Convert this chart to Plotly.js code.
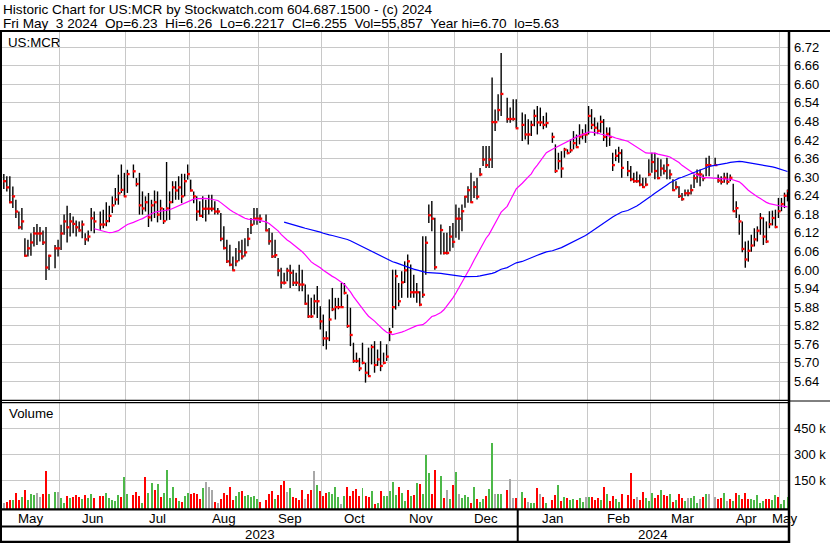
<!DOCTYPE html>
<html><head><meta charset="utf-8">
<script src="https://cdn.plot.ly/plotly-3.0.1.min.js"></script>
<style>html,body{margin:0;padding:0;background:#fff}#chart{width:830px;height:543px}</style>
</head><body><div id="chart"></div>
<script>
// ---- calendar ----
const startDate = '2023-05-05';
const endDate = '2024-05-03';
const holidays = ['2023-05-29','2023-06-19','2023-07-04','2023-09-04','2023-11-23','2023-12-25','2024-01-01','2024-01-15','2024-02-19','2024-03-29'];
const monthLabels = ['May','Jun','Jul','Aug','Sep','Oct','Nov','Dec','Jan','Feb','Mar','Apr','May'];
const yearLabels = ['2023','2024'];
const priceTicks = [5.64,5.70,5.76,5.82,5.88,5.94,6.00,6.06,6.12,6.18,6.24,6.30,6.36,6.42,6.48,6.54,6.60,6.66,6.72];
const volTicks = [150000,300000,450000];
const volTickText = ['150 k','300 k','450 k'];

// ---- daily bars (trading days in order) ----
const highs = [
6.310,6.303,6.303,6.270,6.227,6.189,6.200,6.103,6.098,6.119,
6.139,6.149,6.139,6.128,6.139,6.049,6.081,6.098,6.146,6.179,
6.208,6.184,6.173,6.160,6.157,6.160,6.119,6.128,6.200,6.189,
6.189,6.195,6.219,6.208,6.238,6.265,6.308,6.341,6.314,6.324,
6.341,6.297,6.314,6.254,6.238,6.249,6.227,6.257,6.254,6.227,
6.200,6.349,6.254,6.287,6.287,6.303,6.311,6.311,6.341,6.292,
6.254,6.238,6.222,
6.238,6.227,6.243,6.243,6.222,6.200,6.184,6.141,6.098,6.082,
6.044,6.071,6.093,6.098,6.103,6.136,6.168,6.200,6.200,6.179,
6.179,6.136,6.120,6.098,6.039,6.007,5.991,6.007,6.017,6.001,
5.991,6.017,6.001,5.953,5.921,5.910,5.921,5.948,5.883,5.856,
5.802,5.905,5.942,5.910,5.910,5.958,5.958,5.921,5.878,5.765,
5.733,5.716,5.765,5.700,5.749,5.759,5.770,5.743,5.770,5.733,
5.760,5.813,6.001,
6.001,5.958,5.996,6.028,6.050,6.018,5.985,5.958,5.931,6.109,6.109,6.212,6.223,6.169,
6.147,6.120,6.120,6.142,6.152,6.212,6.201,6.212,6.239,6.271,6.314,6.287,6.298,6.330,6.401,6.401,6.401,6.622,6.519,6.568,6.701,
6.557,6.525,6.552,6.552,
6.509,6.503,6.487,6.482,6.519,6.530,6.525,6.498,6.509,
6.444,6.406,6.379,6.384,6.395,6.390,6.422,6.449,6.438,6.471,6.455,6.471,6.530,
6.520,6.493,6.477,6.499,6.488,6.461,6.461,6.379,6.390,6.398,6.390,
6.352,6.336,6.314,6.318,6.309,6.298,6.298,6.358,6.379,6.379,6.363,6.358,6.341,6.363,6.325,6.293,6.287,6.271,6.249,6.260,6.260,6.276,6.309,6.325,6.325,6.309,6.363,6.369,
6.363,6.309,6.303,6.314,6.314,6.309,6.279,6.222,6.179,6.157,6.092,6.095,6.114,6.135,6.141,6.184,6.170,6.157,6.190,6.192,6.195,6.233,6.233,6.250,6.260
];
const lows = [
6.262,6.254,6.216,6.200,6.168,6.132,6.130,6.044,6.044,6.046,
6.076,6.081,6.092,6.081,5.968,6.000,6.006,6.044,6.065,6.114,
6.089,6.108,6.119,6.108,6.124,6.103,6.081,6.092,6.125,6.119,
6.130,6.135,6.141,6.154,6.184,6.211,6.211,6.249,6.238,6.249,
6.297,6.270,6.179,6.179,6.189,6.139,6.157,6.168,6.154,6.162,
6.149,6.160,6.162,6.216,6.227,6.227,6.216,6.238,6.292,6.254,
6.216,6.159,6.173,
6.168,6.157,6.179,6.189,6.179,6.179,6.093,6.066,6.023,6.012,
5.998,6.012,6.028,6.034,6.044,6.077,6.116,6.146,6.146,6.152,
6.125,6.082,6.039,6.039,5.980,5.940,5.953,5.964,5.942,5.948,
5.948,5.931,5.931,5.888,5.845,5.845,5.856,5.845,5.808,5.754,
5.743,5.770,5.867,5.840,5.873,5.878,5.921,5.813,5.754,5.700,
5.700,5.673,5.695,5.636,5.657,5.695,5.668,5.690,5.673,5.695,
5.706,5.770,5.813,
5.872,5.883,5.910,5.958,5.910,5.910,5.910,5.894,5.883,5.910,5.985,6.152,6.125,6.001,
6.050,6.050,6.050,6.061,6.072,6.104,6.098,6.125,6.201,6.217,6.217,6.233,6.228,6.303,6.336,6.330,6.330,6.330,6.449,6.482,6.498,
6.476,6.476,6.482,6.460,
6.417,6.422,6.406,6.433,6.465,6.438,6.465,6.455,6.460,
6.411,6.314,6.325,6.298,6.363,6.374,6.379,6.390,6.395,6.406,6.422,6.411,6.438,
6.455,6.434,6.439,6.444,6.417,6.398,6.401,6.320,6.352,6.347,6.298,
6.303,6.287,6.282,6.282,6.271,6.265,6.271,6.303,6.314,6.293,6.293,6.303,6.309,6.293,6.293,6.255,6.260,6.233,6.224,6.238,6.238,6.244,6.265,6.282,6.271,6.287,6.303,6.303,
6.336,6.282,6.276,6.282,6.276,6.287,6.190,6.168,6.114,6.057,6.007,6.027,6.059,6.076,6.092,6.114,6.081,6.087,6.135,6.144,6.135,6.168,6.190,6.200,6.2217
];
const closes = [
6.287,6.267,6.219,6.238,6.189,6.138,6.157,6.046,6.070,6.089,
6.118,6.118,6.118,6.089,6.008,6.046,6.070,6.070,6.118,6.157,
6.138,6.157,6.149,6.138,6.128,6.147,6.099,6.108,6.167,6.157,
6.147,6.147,6.158,6.175,6.209,6.228,6.248,6.259,6.238,6.310,
6.319,6.278,6.209,6.199,6.219,6.170,6.209,6.219,6.179,6.199,
6.158,6.199,6.219,6.267,6.257,6.267,6.238,6.287,6.310,6.257,
6.238,6.189,6.175,
6.198,6.198,6.198,6.198,6.189,6.189,6.101,6.071,6.028,6.017,
5.999,6.028,6.060,6.044,6.057,6.101,6.146,6.166,6.166,6.166,
6.128,6.093,6.044,6.048,5.998,5.959,5.959,5.998,5.991,5.959,
5.959,5.953,5.953,5.891,5.850,5.850,5.899,5.899,5.834,5.779,
5.779,5.840,5.873,5.880,5.880,5.880,5.926,5.819,5.790,5.706,
5.706,5.682,5.700,5.668,5.657,5.751,5.693,5.711,5.690,5.700,
5.720,5.799,5.880,
5.980,5.899,5.960,5.999,6.028,5.928,5.928,5.928,5.888,5.920,6.088,6.177,6.166,6.009,
6.129,6.055,6.055,6.108,6.091,6.166,6.166,6.190,6.237,6.258,6.219,6.268,6.237,6.309,6.357,6.339,6.357,6.478,6.478,6.517,6.569,
6.488,6.488,6.488,6.458,
6.469,6.438,6.438,6.469,6.498,6.477,6.477,6.469,6.475,
6.430,6.320,6.352,6.328,6.389,6.378,6.387,6.410,6.397,6.431,6.438,6.438,6.498,
6.469,6.460,6.450,6.479,6.430,6.440,6.430,6.339,6.369,6.378,6.330,
6.320,6.293,6.287,6.287,6.276,6.268,6.276,6.309,6.349,6.320,6.297,6.328,6.320,6.339,6.309,6.258,6.268,6.239,6.229,6.248,6.248,6.258,6.297,6.309,6.309,6.297,6.339,6.339,
6.339,6.289,6.285,6.298,6.285,6.298,6.190,6.200,6.157,6.068,6.034,6.062,6.079,6.099,6.127,6.168,6.108,6.092,6.148,6.168,6.139,6.190,6.213,6.240,6.255
];
// volume in thousands of shares
const volumes = [
21,27,37,37,79,33,54,94,37,71,65,77,54,71,204,71,
83,83,48,19,60,48,54,65,54,42,65,48,71,48,
60,60,77,48,37,31,65,54,169,71,
65,83,60,19,169,77,135,94,129,54,77,210,48,112,48,31,25,60,77,71,77,71,42,
106,140,112,94,25,19,42,77,65,112,37,60,83,88,60,65,54,60,42,25,
37,71,88,42,65,123,146,83,106,54,48,37,94,42,71,94,204,123,88,60,77,83,71,112,54,13,60,112,60,88,100,60,106,60,54,88,13,19,88,60,60,88,140,
65,112,77,31,94,60,65,135,129,71,296,192,71,210,
175,48,94,42,123,198,71,48,65,54,19,112,42,25,42,60,100,365,71,71,71,
94,158,48,48,
83,48,25,19,19,106,71,54,19,
37,65,123,31,54,48,37,42,37,48,25,54,54,54,37,48,37,112,71,31,60,42,25,71,
65,192,42,54,37,83,48,31,77,48,65,94,65,60,71,25,37,71,48,31,48,48,60,19,42,54,71,71,
54,42,48,77,31,42,31,77,65,42,77,42,42,37,65,19,31,42,42,37,65,54,13,37,56
];
// g = up day, r = down day, n = unchanged
const volDirs = (
'nrrgrrgrgggnnrrg'+
'gnggrgrrrgrggr'+
'rrgggggrgg'+
'rrrgrggrgrggggrgrggrrrr'+
'gnnnrnrrrrrggrgggggr'+
'rrrgrrrngrrrrnrrngrrrggggngrrrrrgrrgrgrgggg'+
'grggrgrgrgggrr'+
'grngrgngggrgrggrggngg'+
'rnnr'+
'grnggrnrg'+
'rrgrgrggrggngrrrgrgrrggr'+
'rrrnrrgggrrgrrgrgrrgngggnrgn'+
'nrrgnrgrgrrrgggggrrggrggg').split('');

// ---- build weekday positions ----
const DAY = 86400000;
const xs = [], bounds = [];
let yearBound = null, k = -1, prevM = null;
for (let t = Date.parse(startDate+'T00:00:00Z'); t <= Date.parse(endDate+'T00:00:00Z'); t += DAY) {
  const d = new Date(t), wd = d.getUTCDay();
  if (wd === 0 || wd === 6) continue;
  k++;
  const m = d.getUTCMonth();
  if (prevM !== null && m !== prevM) { bounds.push(k - 0.5); if (m === 0) yearBound = k - 0.5; }
  prevM = m;
  if (!holidays.includes(d.toISOString().slice(0,10))) xs.push(k);
}
const lastK = k;
const xMin = -0.6, xMax = lastK + 0.5;
const edges = [-0.5].concat(bounds, [lastK + 0.5]);

function sma(arr, n) {
  const out = [];
  for (let i = 0; i < arr.length; i++) {
    if (i < n - 1) { out.push(null); continue; }
    let s = 0; for (let j = i - n + 1; j <= i; j++) s += arr[j];
    out.push(s / n);
  }
  return out;
}
const ma30 = sma(closes, 30), ma90 = sma(closes, 90);

const hlx = [], hly = [], cx = [], cy = [];
for (let i = 0; i < xs.length; i++) {
  hlx.push(xs[i], xs[i], null); hly.push(lows[i], highs[i], null);
  cx.push(xs[i] - 0.2, xs[i] + 0.75, null); cy.push(closes[i], closes[i], null);
}
const volBase = -16200;
const dirColor = {g:'#4cb848', r:'#ff0000', n:'#a8a8a8'};

const W = 830, H = 543;
const px = v => v / W, py = v => 1 - v / H;
const FONT = 'Liberation Sans, Arial, sans-serif';

const traces = [
  {type:'scatter', mode:'lines', x:hlx, y:hly, xaxis:'x', yaxis:'y', line:{color:'#000', width:1.4}, hoverinfo:'skip'},
  {type:'scatter', mode:'lines', x:cx, y:cy, xaxis:'x', yaxis:'y', line:{color:'#ff0000', width:2.3}, hoverinfo:'skip'},
  {type:'scatter', mode:'lines', x:xs, y:ma30, xaxis:'x', yaxis:'y', line:{color:'#ff00ff', width:1.2}, connectgaps:false, hoverinfo:'skip'},
  {type:'scatter', mode:'lines', x:xs, y:ma90, xaxis:'x', yaxis:'y', line:{color:'#0000ff', width:1.2}, connectgaps:false, hoverinfo:'skip'},
  {type:'bar', x:xs, y:volumes.map(v => v*1000 - volBase), base:volBase, width:0.66, xaxis:'x', yaxis:'y2',
   marker:{color:volDirs.map(c => dirColor[c]), line:{width:0}}, hoverinfo:'skip'}
];

const annotations = [];
function ann(text, x, y, xanchor, xref, size) {
  annotations.push({text, x, y, xref: xref || 'paper', yref:'paper', xanchor, yanchor:'middle', showarrow:false,
    font:{family:FONT, size:size || 13.3, color:'#000'}, borderpad:0});
}
ann('Historic Chart for US:MCR by Stockwatch.com 604.687.1500 - (c) 2024', px(2), py(9.5), 'left', 'paper', 13.6);
ann('Fri May\u00a0\u00a03 2024\u00a0\u00a0Op=6.23\u00a0\u00a0Hi=6.26\u00a0\u00a0Lo=6.2217\u00a0\u00a0Cl=6.255\u00a0\u00a0Vol=55,857\u00a0\u00a0Year hi=6.70\u00a0\u00a0lo=5.63', px(2), py(23.3), 'left', 'paper', 13.6);
ann('US:MCR', px(7), py(42.5), 'left');
ann('Volume', px(8), py(413.5), 'left');
for (let i = 0; i < monthLabels.length; i++) ann(monthLabels[i], (edges[i] + edges[i+1]) / 2, py(518), 'center', 'x');
ann(yearLabels[0], (edges[0] + yearBound) / 2, py(534.5), 'center', 'x');
ann(yearLabels[1], (yearBound + edges[edges.length-1]) / 2, py(534.5), 'center', 'x');

const L = (x0,y0,x1,y1,w) => ({type:'line', xref:'paper', yref:'paper', x0:px(x0), y0:py(y0), x1:px(x1), y1:py(y1), line:{color:'#000', width:w}, layer:'above'});
const shapes = [
  L(0,31,830,31,2),
  L(1,31,1,543,2),
  L(789,31,789,543,2.5),
  L(0,400.3,789,400.3,1.2),
  L(0,402.6,789,402.6,1.2),
  L(789,401,830,401,1),
  L(0,509.3,789,509.3,2.2),
  L(0,526.5,789,526.5,2),
  L(0,541.8,789,541.8,2.2),
  {type:'line', xref:'x', yref:'paper', x0:yearBound, x1:yearBound, y0:py(509), y1:py(542), line:{color:'#000', width:2}, layer:'above'}
];

const pTop = 6 + (270-32)/309.4, pBot = 6 + (270-400)/309.4;
const vPer = 150000/25.95;
const layout = {
  width:W, height:H, margin:{l:0,r:0,t:0,b:0}, paper_bgcolor:'#fff', plot_bgcolor:'#fff',
  showlegend:false, hovermode:false,
  xaxis:{domain:[px(2), px(789)], range:[xMin, xMax], tickmode:'array', tickvals:bounds, showticklabels:false,
    ticks:'', showgrid:true, gridcolor:'#c8c8c8', gridwidth:1, zeroline:false, showline:false, anchor:'y2', fixedrange:true},
  yaxis:{domain:[py(400), py(32)], range:[pBot, pTop], side:'right', anchor:'x', tickmode:'array', tickvals:priceTicks,
    ticktext:priceTicks.map(v => v.toFixed(2)), ticks:'', showgrid:true, gridcolor:'#c8c8c8', gridwidth:1, zeroline:false,
    showline:false, tickfont:{family:FONT, size:13, color:'#000'}, ticklabelstandoff:4, fixedrange:true},
  yaxis2:{domain:[py(509), py(402)], range:[volBase, (506.2-402)*vPer], side:'right', anchor:'x', tickmode:'array',
    tickvals:volTicks, ticktext:volTickText, ticks:'', showgrid:true, gridcolor:'#c8c8c8', gridwidth:1, zeroline:false,
    showline:false, tickfont:{family:FONT, size:13, color:'#000'}, ticklabelstandoff:4, fixedrange:true},
  annotations, shapes, bargap:0
};
Plotly.newPlot('chart', traces, layout, {displayModeBar:false, staticPlot:true});
</script></body></html>
